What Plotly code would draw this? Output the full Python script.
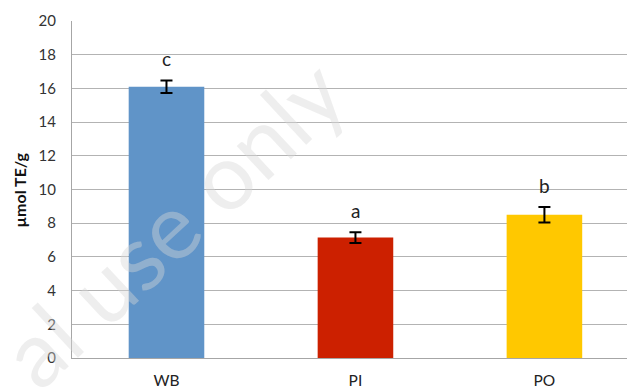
import plotly.graph_objects as go

categories = ["WB", "PI", "PO"]
values = [16.1, 7.15, 8.5]
errors = [0.37, 0.32, 0.46]
letters = ["c", "a", "b"]
colors = ["#6094C8", "#CC2000", "#FFC800"]

FONT = "Lato, 'Open Sans', sans-serif"

fig = go.Figure()
fig.add_trace(go.Bar(
    x=categories, y=values, width=0.4,
    marker=dict(color=colors, line=dict(width=0)),
    error_y=dict(type="data", array=errors, visible=True,
                 color="black", thickness=2, width=6),
    showlegend=False,
))

for c, v, e, l in zip(categories, values, errors, letters):
    fig.add_annotation(x=c, y=v + e, text=l, showarrow=False,
                       yanchor="middle", yshift=22,
                       font=dict(family=FONT, size=19, color="#222222"))

# axis title
fig.add_annotation(xref="paper", yref="paper", x=-0.0937, y=0.5,
                   xanchor="center", yanchor="middle",
                   text="<b>µmol TE/g</b>", textangle=-90, showarrow=False,
                   font=dict(family=FONT, size=16, color="#111111"))

# watermark
fig.add_annotation(xref="paper", yref="paper", x=0.18, y=0.405,
                   text="al use only", textangle=-43, showarrow=False,
                   xanchor="center", yanchor="middle",
                   font=dict(family=FONT, size=92, color="rgba(215,215,215,0.42)"))

fig.update_layout(
    width=627, height=391,
    margin=dict(l=72, r=0, t=21, b=33),
    paper_bgcolor="white", plot_bgcolor="white",
    font=dict(family=FONT, size=15, color="#404040"),
)
fig.update_xaxes(range=[-0.5, 2.437], showgrid=False, showline=True,
                 linecolor="#a6a6a6", linewidth=1, ticks="", automargin=False,
                 ticklabelstandoff=8, tickfont=dict(size=15.5, color="#222222"))
fig.update_yaxes(range=[0, 20], dtick=2, showgrid=True, gridcolor="#b3b3b3",
                 gridwidth=1, showline=True, linecolor="#a6a6a6", linewidth=1,
                 zeroline=False, ticks="", ticklabelstandoff=12, automargin=False,
                 tickfont=dict(size=15, color="#333333"))

fig.write_html("out.html")
